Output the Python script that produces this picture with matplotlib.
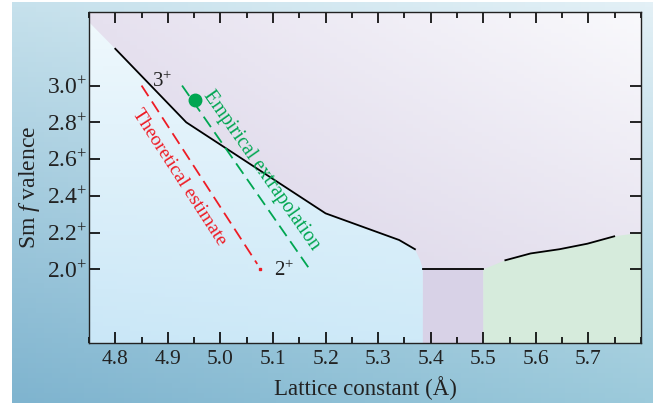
import numpy as np
import matplotlib
matplotlib.use('agg')
import matplotlib.pyplot as plt
from matplotlib.colors import to_rgb
from matplotlib.patches import Polygon
from matplotlib.ticker import MultipleLocator

plt.rcParams['font.family'] = ['Liberation Serif', 'DejaVu Serif']
plt.rcParams['mathtext.fontset'] = 'custom'
plt.rcParams['mathtext.rm'] = 'Liberation Serif'
plt.rcParams['mathtext.it'] = 'Liberation Serif:italic'

# black phase-boundary lines (lattice constant, valence)
bound1_x = [4.80, 4.935, 5.20, 5.34, 5.37]
bound1_y = [3.20, 2.80, 2.305, 2.16, 2.11]
bound2_x = [5.385, 5.50]
bound2_y = [2.00, 2.00]
bound3_x = [5.542, 5.59, 5.645, 5.698, 5.749]
bound3_y = [2.05, 2.087, 2.11, 2.14, 2.18]

# region outlines
blue_x = [4.75, 4.80, 4.935, 5.20, 5.34, 5.37, 5.38, 5.385, 5.385, 4.75]
blue_y = [3.345, 3.20, 2.80, 2.305, 2.16, 2.11, 2.05, 2.00, 1.60, 1.60]
mid_x = [5.385, 5.50, 5.50, 5.385]
mid_y = [2.00, 2.00, 1.60, 1.60]
green_x = [5.50, 5.542, 5.59, 5.645, 5.698, 5.749, 5.80, 5.80, 5.50]
green_y = [2.00, 2.05, 2.087, 2.11, 2.14, 2.18, 2.20, 1.60, 1.60]

# estimates
theo_x = [4.85, 5.07]
theo_y = [3.00, 2.03]
emp_x = [4.927, 5.17]
emp_y = [3.00, 2.00]
point_x = [4.952]
point_y = [2.924]

yticks = [2.0, 2.2, 2.4, 2.6, 2.8, 3.0]
xticks = [4.8, 4.9, 5.0, 5.1, 5.2, 5.3, 5.4, 5.5, 5.6, 5.7]


def gradient(tl, tr, bl, br, n=80):
    tl, tr, bl, br = [np.array(to_rgb(c)) for c in (tl, tr, bl, br)]
    u = np.linspace(0, 1, n)[None, :, None]
    v = np.linspace(0, 1, n)[:, None, None]
    top = tl * (1 - u) + tr * u
    bot = bl * (1 - u) + br * u
    return top * (1 - v) + bot * v


fig = plt.figure(figsize=(6.53, 4.03), dpi=100)
fig.patch.set_facecolor('white')

bg = fig.add_axes([12 / 653, 0, 1 - 12 / 653, 1 - 2 / 403])
bg.imshow(gradient('#c6e1ec', '#e3f0f6', '#7fb4cf', '#9ccadb'),
          aspect='auto', extent=[0, 1, 0, 1])
bg.axis('off')

ax = fig.add_axes([89 / 653, 1 - 343 / 403, 552 / 653, 331 / 403])
ext = [4.75, 5.8, 1.6, 3.4]

# upper (lavender) region
ax.imshow(gradient('#e6e1ef', '#f9f9fc', '#d6cfe5', '#e2ddec'),
          aspect='auto', extent=ext, zorder=0)

# lower-left (blue) region
im = ax.imshow(gradient('#f0f9fd', '#eaf6fc', '#cae7f7', '#d2ecf9'),
               aspect='auto', extent=ext, zorder=1)
poly = Polygon(np.column_stack([blue_x, blue_y]), closed=True,
               facecolor='none', edgecolor='none', transform=ax.transData)
ax.add_patch(poly)
im.set_clip_path(poly)

ax.fill(mid_x, mid_y, color='#d8d2e7', lw=0, zorder=1)
ax.fill(green_x, green_y, color='#d6ebdc', lw=0, zorder=1)

for xs, ys in [(bound1_x, bound1_y), (bound2_x, bound2_y), (bound3_x, bound3_y)]:
    ax.plot(xs, ys, color='black', lw=1.3, zorder=3)

ax.plot(theo_x, theo_y, color='#ee1c25', lw=1.3, dashes=(7, 3.5), zorder=3)
ax.plot([5.075], [2.0], 's', color='#ee1c25', ms=1.5, zorder=3)
ax.plot(emp_x, emp_y, color='#00a651', lw=1.3, dashes=(7, 3.5), zorder=3)
ax.plot(point_x, point_y, 'o', color='#00a651', ms=9, zorder=4)

ax.text(4.922, 2.50, 'Theoretical estimate', color='#ee1c25', fontsize=14,
        rotation=-57, rotation_mode='anchor', ha='center', va='center')
ax.text(5.078, 2.54, 'Empirical extrapolation', color='#00a651', fontsize=14.5,
        rotation=-55, rotation_mode='anchor', ha='center', va='center')
ax.text(4.889, 3.02, '3$^{+}$', fontsize=15, color='#222222', ha='center', va='center')
ax.text(5.121, 1.99, '2$^{+}$', fontsize=15, color='#222222', ha='center', va='center')

ax.set_xlim(4.75, 5.8)
ax.set_ylim(1.6, 3.4)
ax.set_xticks(xticks)
ax.set_xticklabels([f'{t:.1f}' for t in xticks], fontsize=15.5)
ax.xaxis.set_minor_locator(MultipleLocator(0.05))
ax.set_yticks(yticks)
ax.set_yticklabels([f'{t:.1f}$^{{+}}$' for t in yticks], fontsize=17)
ax.tick_params(which='both', direction='in', top=True, right=True,
               color='black', labelcolor='#222222')
ax.tick_params(which='major', length=8, width=1.2)
ax.tick_params(which='minor', length=4, width=1.2)
ax.tick_params(axis='y', pad=1)
ax.tick_params(axis='x', pad=5)
for s in ax.spines.values():
    s.set_linewidth(1.0)
    s.set_color('#222222')

ax.set_xlabel('Lattice constant (Å)', fontsize=16.5, color='#222222')
ax.xaxis.set_label_coords(0.5, -0.1)
ax.set_ylabel('Sm $f$ valence', fontsize=17, color='#222222')
ax.yaxis.set_label_coords(-0.085, 0.47)

plt.savefig('out.png', dpi=100)
